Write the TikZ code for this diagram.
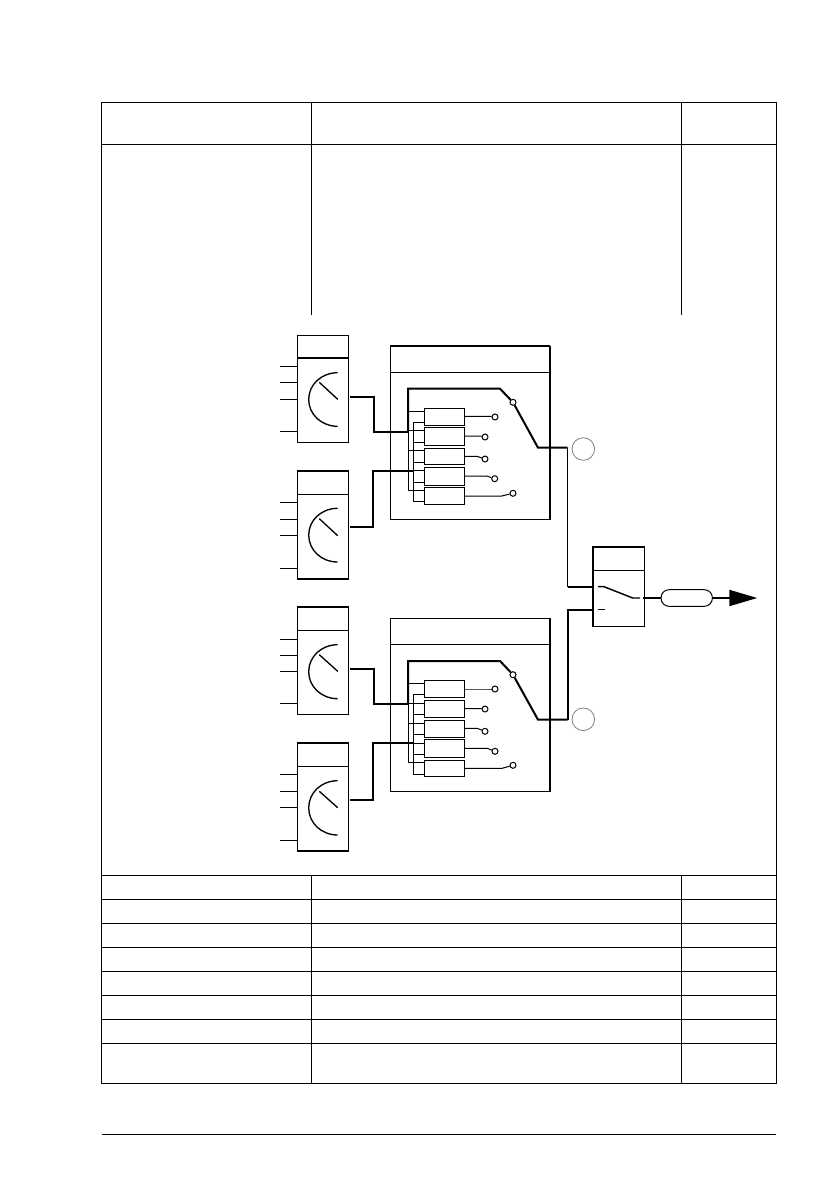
\documentclass[tikz,border=0pt]{standalone}
\usetikzlibrary{arrows.meta}
\begin{document}
\begin{tikzpicture}[x=.75pt, y=-.75pt, line cap=butt, line join=miter]
	\def\u{.75pt}
	\tikzset{
		box_base/.style={draw, rectangle, inner sep=0, outer sep=0, anchor=north west, line width=.75pt},
		thin_wire/.style={line width=.75pt},
		thick_wire/.style={line width=1.5pt},
		grid_line/.style={line width=.9pt},
		tap_node/.style={draw, circle, fill=white, inner sep=0, minimum size=6*\u, line width=.75pt},
		mark_node/.style={draw=gray, circle, inner sep=0, minimum size=22.6*\u, line width=.6pt}
	}
	\path[fill=white, use as bounding box] (0,0) rectangle (838,1192);

	% table
	\draw[grid_line] (101.3,102.7) rectangle (776.7,1083.3);
	\draw[grid_line] (101.3,144.3) -- (776.7,144.3);
	\foreach \x in {311.3, 681.3} {
		\draw[grid_line] (\x,102.7) -- (\x,315);
		\draw[grid_line] (\x,875.3) -- (\x,1083.3);
	}
	\foreach \y in {875.3, 899.3, 923.3, 947.3, 971.3, 995.3, 1019.3, 1043.3} {
		\draw[grid_line] (101.3,\y) -- (776.7,\y);
	}
	\draw[grid_line] (102,1134.3) -- (776,1134.3);

	% selector blocks
	\foreach \n/\yt/\yd/\yb/\sa/\sb/\sc/\sd/\ca/\cb/\na/\nb/\yo in {
		1/335.3/358/442.3/366.3/382.3/399.3/431.3/372.7/426.3/382.3/399.3/396.7,
		2/470.7/494.3/579/502.7/519/535.3/568.3/508.3/562/518.7/535.7/526.7,
		3/606.7/630.3/714.3/639.3/655.3/671.3/703.3/644.7/698.7/654.7/671.3/668.7,
		4/743/766.3/850.7/774.3/791.3/807.3/840/780.7/835/791.3/807.7/800} {
		\node[box_base, minimum width=51.4*\u, minimum height={(\yb-\yt)*\u}] (sel\n) at (297.3,\yt) {};
		\coordinate (sel\n_div) at (297.3,\yd);
		\draw[thin_wire] (sel\n_div) -- (sel\n_div -| sel\n.east);
		\foreach \s in {\sa, \sb, \sc, \sd} {
			\coordinate (stub) at (280,\s);
			\draw[thin_wire] (stub) -- (stub -| sel\n.west);
		}
		\pgfmathsetmacro{\cm}{(\ca+\cb)/2}
		\pgfmathsetmacro{\ck}{(\cb-\ca)/2*.56}
		\draw[line width=1pt] (337.7,\ca) .. controls (321.5,\ca) and (308.7,\cm-\ck) .. (308.7,\cm)
			.. controls (308.7,\cm+\ck) and (321.5,\cb) .. (337.7,\cb);
		\draw[line width=1pt] (319.3,\na) -- (337.7,\nb);
		\coordinate (sel\n_out) at (350,\yo);
	}
	\draw[thick_wire] (sel1_div) -- (sel1_div -| sel1.east);
	\draw[thick_wire] (sel2.north west) -- (sel2.north east);
	\draw[thick_wire] (sel2.south west) -- (sel2.south east);
	\draw[thick_wire] (sel3.north west) -- (sel3.north east);
	\draw[thick_wire] (sel4.north west) -- (sel4.north east);
	\draw[thick_wire] (sel4.south west) -- (sel4.south east);

	% relay boxes
	\foreach \g/\yt/\yd/\yb/\arma/\armb/\piv/\ain/\aend/\bin/\btop/\bend/\ia/\ib in {
		1/346/372/519.3/388.7/447.7/402.3/432/490.7/470.7/422.3/501/1/2,
		2/618.3/644.3/791.3/661/719.7/674.7/704/762.3/743/694.3/774.3/3/4} {
		\node[box_base, minimum width=159.7*\u, minimum height={(\yb-\yt)*\u}] (relay\g) at (390.3,\yt) {};
		\coordinate (relay\g_div) at (390.3,\yd);
		\draw[thin_wire] (relay\g_div) -- (relay\g_div -| relay\g.east);
		\draw[thick_wire] (relay\g.north east) -- (relay\g.south east);
		\node[tap_node] (pivot\g) at (513,\piv) {};
		\coordinate (bus_a\g) at (408,\ain);
		\coordinate (bus_b\g) at (413.3,\bin);
		\coordinate (arm_top\g) at (500,\arma);
		\coordinate (arm_low\g) at (538,\armb);
		\coordinate (trunk\g) at (567.5,\armb);
		\draw[thin_wire] (bus_a\g) -- (408,\aend);
		\draw[thin_wire] (413.3,\btop) -- (413.3,\bend);
		\draw[thick_wire] (sel\ia_out) -- ++(24,0) |- (bus_a\g);
		\draw[thick_wire] (sel\ib_out) -- ++(23,0) |- (bus_b\g);
		\draw[thick_wire] (bus_a\g) |- (arm_top\g) -- (pivot\g);
		\draw[thick_wire] (pivot\g) -- (arm_low\g) -- (trunk\g);
	}
	\draw[thick_wire] (relay1.north west) -- (relay1.north east);

	% contact rows
	\foreach \g/\i/\yt/\yb/\bra/\brb/\cx/\wy/\cy/\bx in {
		1/1/408.3/425.3/411.3/422.3/495/416.3/417/491,
		1/2/427.3/445.3/430.3/442.3/485/436/437/481,
		1/3/448.3/464.3/450.3/462.3/485/456.3/459/477,
		1/4/467.3/485.3/470.3/482.3/494.7/476/478.7/486.7,
		1/5/487.3/504.3/490/501/513/496/493.3/501.7,
		2/1/680.3/697.3/683.3/694.3/495/689/689/491,
		2/2/700.3/717.3/703.3/714.3/485/708.7/709/481,
		2/3/720.3/737.3/723.3/734.3/485/728.3/731.3/477,
		2/4/739.3/757.3/743.3/754.3/495/748.3/751.3/487,
		2/5/760.3/776.3/762.3/774.3/513/768.3/765.3/502} {
		\node[box_base, minimum width=40.4*\u, minimum height={(\yb-\yt)*\u}] (rb\g\i) at (424.3,\yt) {};
		\node[tap_node] (tap\g\i) at (\cx,\cy) {};
		\coordinate (ta) at (408,\bra);
		\coordinate (tb) at (413.3,\brb);
		\coordinate (bend) at (\bx,\wy);
		\draw[thin_wire] (ta) -- (ta -| rb\g\i.west);
		\draw[thin_wire] (tb) -- (tb -| rb\g\i.west);
		\draw[thin_wire] (bend -| rb\g\i.east) -- (bend) -- (tap\g\i);
	}

	% marks
	\node[mark_node] (mark1) at (583.3,449) {};
	\node[mark_node] (mark2) at (583.3,719.3) {};

	% output switch
	\node[box_base, minimum width=52*\u, minimum height=79.3*\u] (sw) at (592.7,547) {};
	\coordinate (sw_div) at (592.7,570.3);
	\draw[thin_wire] (sw_div) -- (sw_div -| sw.east);
	\draw[thick_wire] (sw.north east) -- (sw.north west) -- (sw.south west);
	\coordinate (sw_a) at (592.7,586.7);
	\coordinate (sw_b) at (592.7,610);
	\draw[thin_wire] (trunk1) |- (sw_a);
	\draw[thick_wire] (567.5,586.7) -- (sw_a);
	\draw[thick_wire] (trunk2) |- (sw_b);
	\draw[line width=1.1pt] (598,586.7) -- (604,586.7) -- (632.7,598) -- (640,598);
	\draw[thin_wire] (598,609.3) -- (605,609.3);
	\node[draw, rectangle, rounded corners=6pt, inner sep=0, outer sep=0, line width=.75pt,
		minimum width=51.3*\u, minimum height=16.6*\u] (cap) at (686.7,598) {};
	\coordinate (sw_out) at (643.3,598);
	\coordinate (arrow_end) at (757.3,598);
	\draw[thick_wire] (sw_out) -- (cap);
	\draw[thick_wire, -{Triangle[length=21pt, width=12pt]}] (cap) -- (arrow_end);
\end{tikzpicture}
\end{document}
